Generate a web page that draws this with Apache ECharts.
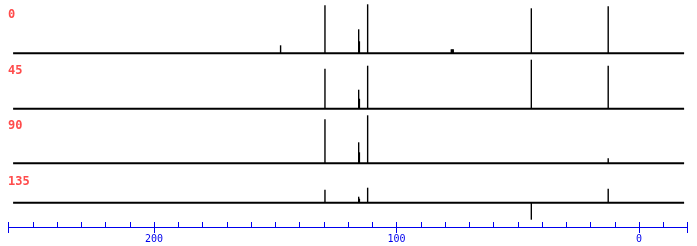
<!DOCTYPE html>
<html>
<head>
<meta charset="utf-8">
<script src="https://cdn.jsdelivr.net/npm/echarts@6/dist/echarts.min.js"></script>
<style>html,body{margin:0;padding:0;background:#fff;}#c{width:697px;height:246px;}</style>
</head>
<body>
<div id="c"></div>
<script>
// chemical shift (ppm) of each peak
const peakPpm = [147.8, 129.5, 115.6, 115.3, 111.9, 77.4, 77.0, 76.6, 44.4, 12.7];
// intensities per DEPT angle trace
const int0   = [8, 48, 24, 12, 49, 4, 4, 4, 45, 47];
const int45  = [0, 40, 19, 10, 43, 0, 0, 0, 49, 43];
const int90  = [0, 44, 21, 11, 48, 0, 0, 0, 0, 5];
const int135 = [0, 13, 6, 4, 15, 0, 0, 0, -17, 14];
const traceLabels = ['0', '45', '90', '135'];
const traces = [int0, int45, int90, int135];
const baselineRange = [258.1, -18.6];
const axisMin = -20, axisMax = 260;
const majorTicks = [260, 200, 100, 0, -20];
const majorLabels = [200, 100, 0];

const chart = echarts.init(document.getElementById('c'), null, {renderer: 'canvas'});
const tops = [3.3, 58.7, 113.3, 152.7];
const labelTops = [9, 65, 120, 176];
const grids = [], xAxes = [], yAxes = [], series = [], graphics = [];
traces.forEach((vals, i) => {
  grids.push({left: 8.5, right: 9.5, top: tops[i], height: 70});
  xAxes.push({type: 'value', gridIndex: i, min: axisMin, max: axisMax, inverse: true, show: false});
  yAxes.push({type: 'value', gridIndex: i, min: -20, max: 50, show: false});
  series.push({
    type: 'line', xAxisIndex: i, yAxisIndex: i, silent: true, symbol: 'none',
    lineStyle: {color: '#000', width: 2},
    data: baselineRange.map(p => [p, 0])
  });
  series.push({
    type: 'bar', xAxisIndex: i, yAxisIndex: i, silent: true, barWidth: 1.4,
    itemStyle: {color: '#000'},
    data: peakPpm.map((p, k) => [p, vals[k]]).filter(d => d[1] !== 0)
  });
  graphics.push({type: 'text', left: 8, top: labelTops[i], style: {text: traceLabels[i], fill: '#ff4b4b', font: 'bold 12px "DejaVu Sans Mono"'}});
});
// scale axis
grids.push({left: 8.5, right: 9.5, top: 200, height: 27});
grids.push({left: 8.5, right: 9.5, top: 200, height: 27});
xAxes.push({type: 'value', gridIndex: 4, min: axisMin, max: axisMax, inverse: true, interval: 10,
  axisLine: {lineStyle: {color: '#0000ee', width: 1}},
  axisTick: {inside: true, length: 5, lineStyle: {color: '#0000ee', width: 1}},
  axisLabel: {show: false}, splitLine: {show: false}});
xAxes.push({type: 'value', gridIndex: 5, min: axisMin, max: axisMax, inverse: true,
  axisLine: {lineStyle: {color: '#0000ee', width: 1}},
  axisTick: {inside: false, length: 6, customValues: majorTicks, lineStyle: {color: '#0000ee', width: 1}},
  axisLabel: {customValues: majorLabels, color: '#0000ee', fontFamily: '"DejaVu Sans Mono"', fontSize: 10, margin: 7},
  splitLine: {show: false}});
yAxes.push({type: 'value', gridIndex: 4, show: false});
yAxes.push({type: 'value', gridIndex: 5, show: false});

chart.setOption({
  animation: false,
  grid: grids, xAxis: xAxes, yAxis: yAxes, series: series, graphic: graphics
});
</script>
</body>
</html>
